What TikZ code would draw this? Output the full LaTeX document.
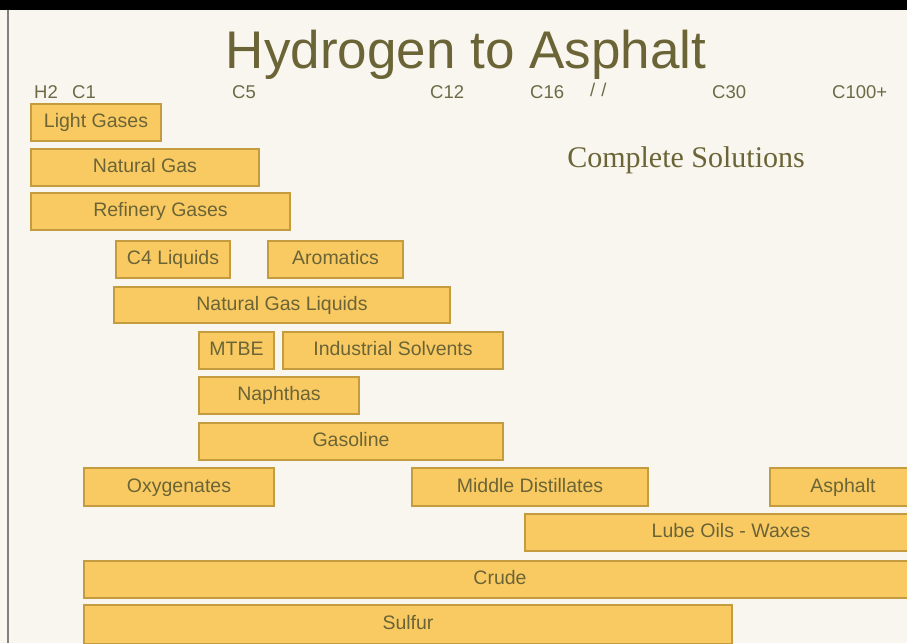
\documentclass[tikz,border=0pt]{standalone}
\usepackage{fontspec}
\setmainfont{Liberation Sans}
\newfontfamily\serifttl{Liberation Serif}
\definecolor{bgcream}{HTML}{F8F6EE}
\definecolor{barfill}{HTML}{F9CA62}
\definecolor{barline}{HTML}{C49B3E}
\definecolor{olive}{HTML}{6B6436}
\definecolor{axistxt}{HTML}{6E6A48}
\tikzset{
  prodbar/.style={draw=barline, line width=1.6pt, fill=barfill, inner sep=0pt,
    text=olive, font=\fontsize{19.5}{21}\selectfont, text height=14pt, text depth=4pt},
  axislbl/.style={anchor=base west, inner sep=0pt, text=axistxt, font=\fontsize{18.5}{20}\selectfont},
}
\newcommand\mkbar[6]{%
  \node[prodbar, minimum width={#4-#2}, minimum height={#5-#3}]
    (#1) at ({(#2+#4)/2},{(#3+#5)/2}) {#6};}
\begin{document}
\begin{tikzpicture}[x=1pt,y=-1pt]
\useasboundingbox (0,0) rectangle (907,643);
\clip (0,0) rectangle (907,643);
\fill[bgcream] (0,0) rectangle (907,643);
\fill[black] (0,0) rectangle (907,9.5);
\draw[gray, line width=1.2pt] (8,9.5) -- (8,643);
% title
\node[anchor=base, inner sep=0pt, text=olive, font=\fontsize{53}{58}\selectfont] (title) at (466,68) {Hydrogen to Asphalt};
% axis labels
\node[axislbl] (h2) at (34,98) {H2};
\node[axislbl] (c1) at (72,98) {C1};
\node[axislbl] (c5) at (232,98) {C5};
\node[axislbl] (c12) at (430,98) {C12};
\node[axislbl] (c16) at (530,98) {C16};
\node[axislbl] (brk) at (590,96) {/\kern6pt/};
\node[axislbl] (c30) at (712,98) {C30};
\node[axislbl] (c100) at (832,98) {C100+};
% subtitle
\node[anchor=base, inner sep=0pt, text=olive, font=\serifttl\fontsize{30}{33}\selectfont] (sub) at (686,167) {Complete Solutions};
% bars
\mkbar{light}{31}{104}{161}{141}{Light Gases}
\mkbar{natgas}{31}{149}{259}{186}{Natural Gas}
\mkbar{refgas}{31}{193}{290}{230}{Refinery Gases}
\mkbar{cfour}{116}{241}{230}{278}{C4 Liquids}
\mkbar{arom}{268}{241}{403}{278}{Aromatics}
\mkbar{ngl}{114}{287}{450}{323}{Natural Gas Liquids}
\mkbar{mtbe}{199}{332}{274}{369}{MTBE}
\mkbar{indsol}{283}{332}{503}{369}{Industrial Solvents}
\mkbar{naph}{199}{377}{359}{414}{Naphthas}
\mkbar{gasol}{199}{423}{503}{460}{Gasoline}
\mkbar{oxy}{84}{468}{274}{506}{Oxygenates}
\mkbar{middist}{412}{468}{648}{506}{Middle Distillates}
\mkbar{asph}{770}{468}{916}{506}{Asphalt}
\mkbar{lube}{525}{514}{937}{551}{Lube Oils - Waxes}
\mkbar{crude}{84}{561}{916}{598}{Crude}
\mkbar{sulf}{84}{605}{732}{644}{Sulfur}
\end{tikzpicture}
\end{document}
